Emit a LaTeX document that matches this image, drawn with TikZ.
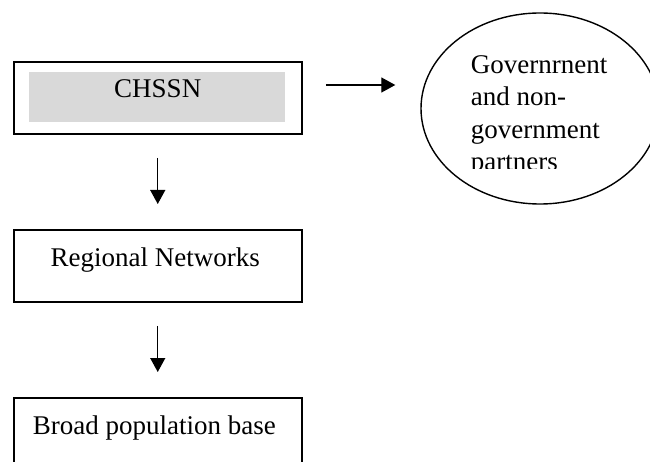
\documentclass[tikz,border=0pt]{standalone}
\usepackage{fontspec}
\setmainfont{Liberation Serif}
\usetikzlibrary{shapes.geometric,arrows.meta,calc}
\definecolor{shadegray}{HTML}{D9D9D9}
\begin{document}
\begin{tikzpicture}[x=1pt,y=-1pt,
  box/.style={draw, line width=1.8pt, minimum width=288.3pt, minimum height=72pt, inner sep=0pt, anchor=north west},
  lbl/.style={font=\fontsize{27}{32.2}\selectfont, inner sep=0pt},
  conn/.style={line width=1.3pt, -{Triangle[length=14pt,width=15pt]}, shorten <=23pt, shorten >=25pt}]
\useasboundingbox (0,0) rectangle (650,462);
\clip (0,0) rectangle (650,462);
% boxes
\node[box] (chssn) at (12.7,61) {};
\node[fill=shadegray, inner sep=0pt, minimum width=256pt, minimum height=50pt, anchor=north west] (shade) at (29,72.3) {};
\node[lbl, anchor=base] (chssntext) at ($(chssn.north)+(0,36.3)$) {CHSSN};
\node[box] (regional) at (12.7,229) {};
\node[lbl, anchor=base] (regionaltext) at ($(regional.north)+(-2.5,37)$) {Regional Networks};
\node[box] (broad) at (12.7,397) {};
\node[lbl, anchor=base] (broadtext) at ($(broad.north)+(-3.5,37)$) {Broad population base};
% ellipse
\node[draw, ellipse, line width=1.4pt, minimum width=238pt, minimum height=191pt, inner sep=0pt] (partners) at (540,108.5) {};
\begin{scope}
\clip (440,30) rectangle (645,168.3);
\node[lbl, anchor=north west, align=left] (partnerstext) at (470.7,55.6) {Governrnent\\and non-\\government\\partners};
\end{scope}
% connectors
\draw[conn] (chssn.east |- 0,85) -- (partners.west |- 0,85);
\draw[conn] (chssn.south) -- (regional.north);
\draw[conn] (regional.south) -- (broad.north);
\end{tikzpicture}
\end{document}
